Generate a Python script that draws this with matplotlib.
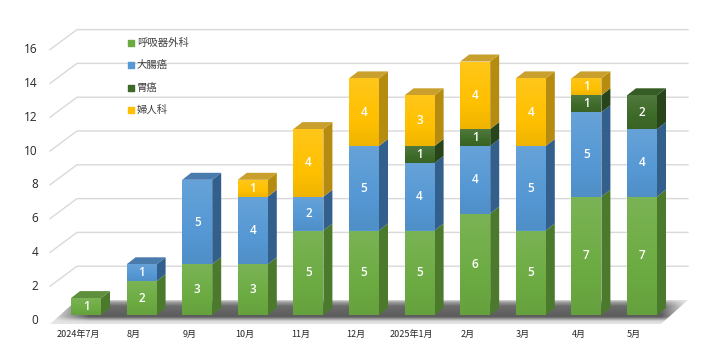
import matplotlib.pyplot as plt
from matplotlib.patches import Polygon
from matplotlib.colors import to_rgb
import numpy as np

plt.rcParams['font.family'] = ['Noto Sans CJK JP', 'DejaVu Sans']

months = ["2024年7月", "8月", "9月", "10月", "11月", "12月",
          "2025年1月", "2月", "3月", "4月", "5月"]
series_names = ["呼吸器外科", "大腸癌", "胃癌", "婦人科"]
kokyuki = [1, 2, 3, 3, 5, 5, 5, 6, 5, 7, 7]
daicho = [0, 1, 5, 4, 2, 5, 4, 4, 5, 5, 4]
igan = [0, 0, 0, 0, 0, 0, 1, 1, 0, 1, 2]
fujinka = [0, 0, 0, 1, 4, 4, 3, 4, 4, 1, 0]
yticks = [0, 2, 4, 6, 8, 10, 12, 14, 16]

# front, side, top colours per series
colors = [("#6cab42", "#4b7a2d", "#5e8f3c"),
          ("#5598d4", "#335f8c", "#4a7bad"),
          ("#3d6a28", "#27441a", "#355c24"),
          ("#ffc000", "#b58c10", "#c9a02e")]

# geometry (data units: x = category, y = value)
px_x, px_y = 55.6, 16.9          # pixels per unit
W = 30 / px_x                    # bar front width
DX, DY = 9 / px_x, 7 / px_y      # bar depth
WDX, WDY = 27 / px_x, 20 / px_y  # wall depth
floor_y = -5 / px_y
wall_left = -36 / px_x
wall_right = 575 / px_x
XLIM = (-86 / px_x, 634 / px_x)
YLIM = (-45 / px_y, 315 / px_y)

fig = plt.figure(figsize=(7.2, 3.6), dpi=100)
ax = fig.add_axes([0, 0, 1, 1])
ax.axis("off")


def shade(c, f):
    r = np.array(to_rgb(c))
    return np.clip(r + (1 - r) * f if f > 0 else r * (1 + f), 0, 1)


# back wall gridlines
for g in yticks[1:]:
    y = g + floor_y
    ax.plot([wall_left, wall_left + WDX, wall_right + WDX], [y, y + WDY, y + WDY],
            color="#d9d9d9", lw=1, zorder=1)
for g in yticks:
    ax.text(wall_left - 12 / px_x, g + floor_y, str(g), ha="right", va="center",
            fontsize=8.5, color="#262626", family=["Open Sans", "DejaVu Sans"])

# floor with soft shadow gradient
yb, yt = floor_y - 4 / px_y, floor_y + WDY
floor = Polygon([(wall_left, yb), (wall_right, yb),
                 (wall_right + WDX, yt), (wall_left + WDX, yt)],
                closed=True, facecolor="none", edgecolor="none")
ax.add_patch(floor)
ny, nx = 60, 300
t = np.linspace(0, 1, ny)[:, None]
s = np.linspace(0, 1, nx)[None, :]
prof = np.interp(t, [0, 0.12, 0.3, 0.75, 0.92, 1.0], [0.9, 0.85, 0.36, 0.42, 0.62, 0.85])
edge = np.clip(np.minimum(s / 0.06, (1 - s) / 0.04), 0, 1)
gray = 0.9 - (0.9 - prof) * edge
ax.imshow(np.repeat(gray[:, :, None], 3, axis=2), origin="lower", aspect="auto",
          extent=(wall_left, wall_right + WDX, yb, yt), zorder=2,
          interpolation="bilinear").set_clip_path(floor)

series = [kokyuki, daicho, igan, fujinka]
grad = np.linspace(-0.06, 0.1, 40)
for i in range(len(months)):
    bottom = 0
    top_idx = max(k for k in range(4) if series[k][i] > 0)
    for k in range(4):
        v = series[k][i]
        if v == 0:
            continue
        front, side, topc = colors[k]
        bars = ax.bar(i, v, W, bottom=bottom, color=front, edgecolor="none", zorder=3)
        img = np.stack([shade(front, f) for f in grad])[:, None, :]
        ax.imshow(img, origin="lower", aspect="auto", zorder=3.1,
                  extent=(i - W / 2, i + W / 2, bottom, bottom + v),
                  interpolation="bilinear").set_clip_path(bars.patches[0])
        x1 = i + W / 2
        ax.add_patch(Polygon([(x1, bottom), (x1 + DX, bottom + DY),
                              (x1 + DX, bottom + v + DY), (x1, bottom + v)],
                             closed=True, facecolor=side, edgecolor="none", zorder=3))
        if k == top_idx:
            x0 = i - W / 2
            tp = bottom + v
            ax.add_patch(Polygon([(x0, tp), (x1, tp), (x1 + DX, tp + DY), (x0 + DX, tp + DY)],
                                 closed=True, facecolor=topc, edgecolor="none", zorder=3))
        ax.text(i, bottom + v / 2, str(v), ha="center", va="center",
                fontsize=8.5, color="white", fontweight="semibold", zorder=4,
                family=["Open Sans", "DejaVu Sans"])
        bottom += v
    ax.text(i - 8 / px_x, -19 / px_y, months[i], ha="center", va="center",
            fontsize=6.5, color="#262626")

# legend
for k, name in enumerate(series_names):
    y = (272 - 22.3 * k) / px_y
    ax.scatter([45 / px_x], [y], marker="s", s=22, color=colors[k][0], zorder=4)
    ax.text(51 / px_x, y, name, ha="left", va="center", fontsize=7.5,
            color="#404040", zorder=4)

ax.set_xlim(*XLIM)
ax.set_ylim(*YLIM)
fig.savefig("out.png")
